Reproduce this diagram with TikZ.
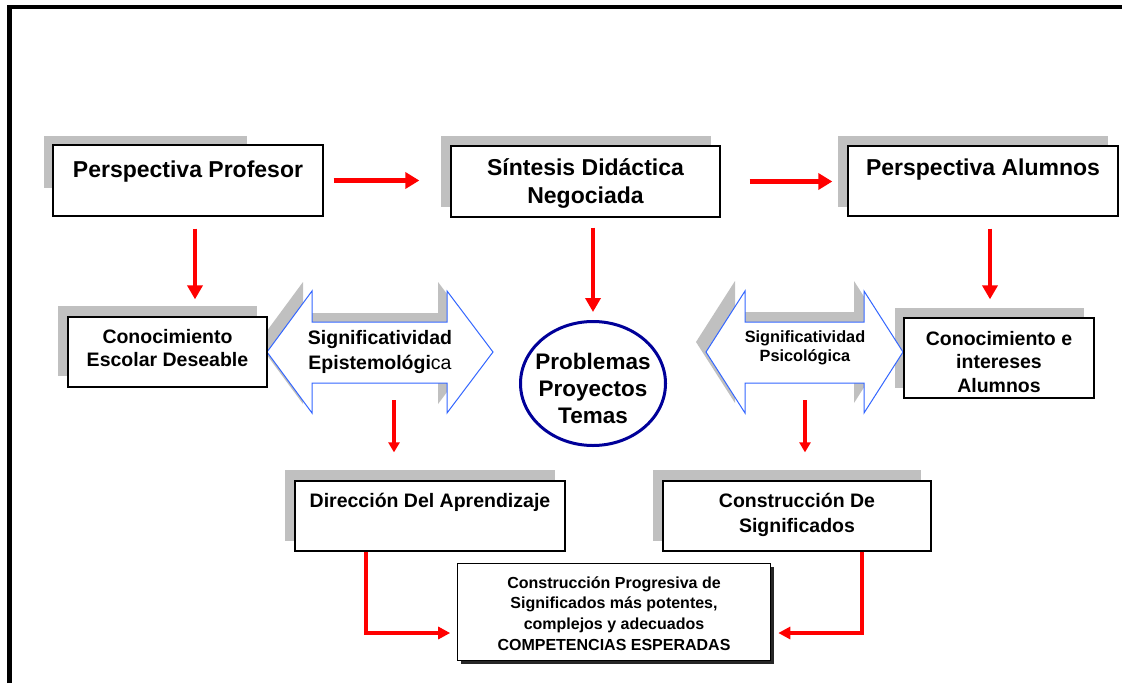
\documentclass[tikz,border=0pt]{standalone}
\usepackage{fontspec}
\setmainfont{Liberation Sans}
\usetikzlibrary{arrows.meta,shapes.geometric}
\definecolor{shadowgray}{HTML}{C0C0C0}
\definecolor{arrowblue}{HTML}{3366FF}
\definecolor{navyc}{HTML}{000099}
\definecolor{redc}{HTML}{FF0000}
\newcommand\mylines[3]{\fontsize{#1}{#2}\selectfont\begin{tabular}[t]{@{}c@{}}#3\end{tabular}}
\begin{document}
\begin{tikzpicture}[x=1pt,y=-1pt,
  box/.style={draw=black, line width=1.3pt, fill=white, rectangle, inner sep=0pt},
  graybox/.style={fill=shadowgray, draw=none},
  txt/.style={anchor=base, inner sep=0pt, font=\bfseries},
  dblarrow/.style={draw=arrowblue, line width=1pt, fill=white, line join=miter},
  ra/.style={draw=redc, line width=5pt, -{Triangle[length=14pt,width=16pt]}},
  rv/.style={draw=redc, line width=4.5pt, -{Triangle[length=14pt,width=15pt]}},
  rs/.style={draw=redc, line width=3.5pt, -{Triangle[length=10pt,width=11pt]}},
  rb/.style={draw=redc, line width=4.5pt, -{Triangle[length=12pt,width=12pt]}}
]
\useasboundingbox (0,0) rectangle (1122,683);
\fill[white] (0,0) rectangle (1122,683);
% frame
\draw[line width=4.2pt, line join=miter] (9.5,683) -- (9.5,7) -- (1122,7);

% shadows of double arrows
\path[graybox] (258,343) -- (303,282) -- (303,313) -- (438,313) -- (438,282) -- (484,343) -- (438,404) -- (438,374) -- (303,374) -- (303,404) -- cycle;
\path[graybox] (696,342) -- (735,281) -- (735,312) -- (854,312) -- (854,281) -- (893,342) -- (854,403) -- (854,373) -- (735,373) -- (735,403) -- cycle;

% box shadows
\path[graybox] (44,136) rectangle (247,188);
\path[graybox] (441,136) rectangle (711,207);
\path[graybox] (838,136) rectangle (1108,207);
\path[graybox] (58,306) rectangle (257,376);
\path[graybox] (895,308) rectangle (1084,388);
\path[graybox] (285,470) rectangle (555,541);
\path[graybox] (653,470) rectangle (921,541);

% double arrows
\draw[dblarrow] (267,352) -- (312,291) -- (312,322) -- (447,322) -- (447,291) -- (493,352) -- (447,413) -- (447,383) -- (312,383) -- (312,413) -- cycle;
\draw[dblarrow] (706,352) -- (745,291) -- (745,322) -- (864,322) -- (864,291) -- (903,352) -- (864,413) -- (864,383) -- (745,383) -- (745,413) -- cycle;
\coordinate (epb) at (394,383);
\coordinate (psb) at (805,383);

% boxes
\node[box, minimum width=270pt, minimum height=71pt] (pp) at (188,180.5) {};
\node[box, minimum width=269pt, minimum height=71pt] (sd) at (585.5,181.5) {};
\node[box, minimum width=270pt, minimum height=70pt] (pa) at (983,181) {};
\node[box, minimum width=199pt, minimum height=70pt] (ced) at (167.5,352) {};
\node[box, minimum width=190pt, minimum height=80pt] (cia) at (999,358) {};
\node[box, minimum width=270pt, minimum height=70pt] (da) at (430,516) {};
\node[box, minimum width=268pt, minimum height=70pt] (cds) at (797,516) {};
\fill[black!85] (461,567) rectangle (774,664);
\node[box, line width=1.6pt, minimum width=313pt, minimum height=97pt] (cps) at (614,612) {};
\node[ellipse, draw=navyc, line width=3pt, fill=white, minimum width=145pt, minimum height=124pt, inner sep=0pt] (el) at (593,383.5) {};

% texts
\node[txt] (ppt) at (188,177) {\mylines{23}{28}{Perspectiva Profesor}};
\node[txt] (sdt) at (585.5,175) {\mylines{23}{28}{Síntesis Didáctica\\Negociada}};
\node[txt] (pat) at (983,175) {\mylines{23}{28}{Perspectiva Alumnos}};
\node[txt] (cedt) at (167.5,343) {\mylines{19.5}{23}{Conocimiento\\Escolar Deseable}};
\node[txt] (ciat) at (999,345) {\mylines{19.5}{23.5}{Conocimiento e\\intereses\\Alumnos}};
\node[txt] (ept) at (380,344) {\mylines{19.5}{25}{Significatividad\\Epistemológi{\mdseries ca}}};
\node[txt] (pst) at (805,342) {\mylines{16.3}{19}{Significatividad\\Psicológica}};
\node[txt] (elt) at (593,369) {\mylines{22.5}{27}{Problemas\\Proyectos\\Temas}};
\node[txt] (dat) at (430,507) {\mylines{19.5}{25}{Dirección Del Aprendizaje}};
\node[txt] (cdst) at (797,507) {\mylines{19.5}{25}{Construcción De\\Significados}};
\node[txt] (cpst) at (614,588) {\mylines{16}{20.7}{Construcción Progresiva de\\Significados más potentes,\\complejos y adecuados\\COMPETENCIAS ESPERADAS}};

% red connectors
\draw[ra, shorten <=10pt, shorten >=31pt] (pp.east) -- (pp.east -| sd.west);
\draw[ra, shorten <=29pt, shorten >=15pt] (sd.east) -- (sd.east -| pa.west);
\draw[rv, shorten <=12pt, shorten >=17pt] ([xshift=7pt]pp.south) -- ([xshift=7pt]pp.south |- ced.north);
\draw[rv, shorten <=10pt, shorten >=8pt] (sd.south -| el.north) -- (el.north);
\draw[rv, shorten <=12pt, shorten >=18pt] ([xshift=7pt]pa.south) -- ([xshift=7pt]pa.south |- cia.north);
\draw[rs, shorten <=17pt, shorten >=28pt] (epb) -- (epb |- da.north);
\draw[rs, shorten <=17pt, shorten >=28pt] (psb) -- (psb |- cds.north);
\draw[rb, shorten >=6.5pt] ([xshift=-64pt]da.south) |- ([yshift=-21pt]cps.west);
\draw[rb, shorten >=7pt] ([xshift=65pt]cds.south) |- ([yshift=-21pt]cps.east);
\end{tikzpicture}
\end{document}
